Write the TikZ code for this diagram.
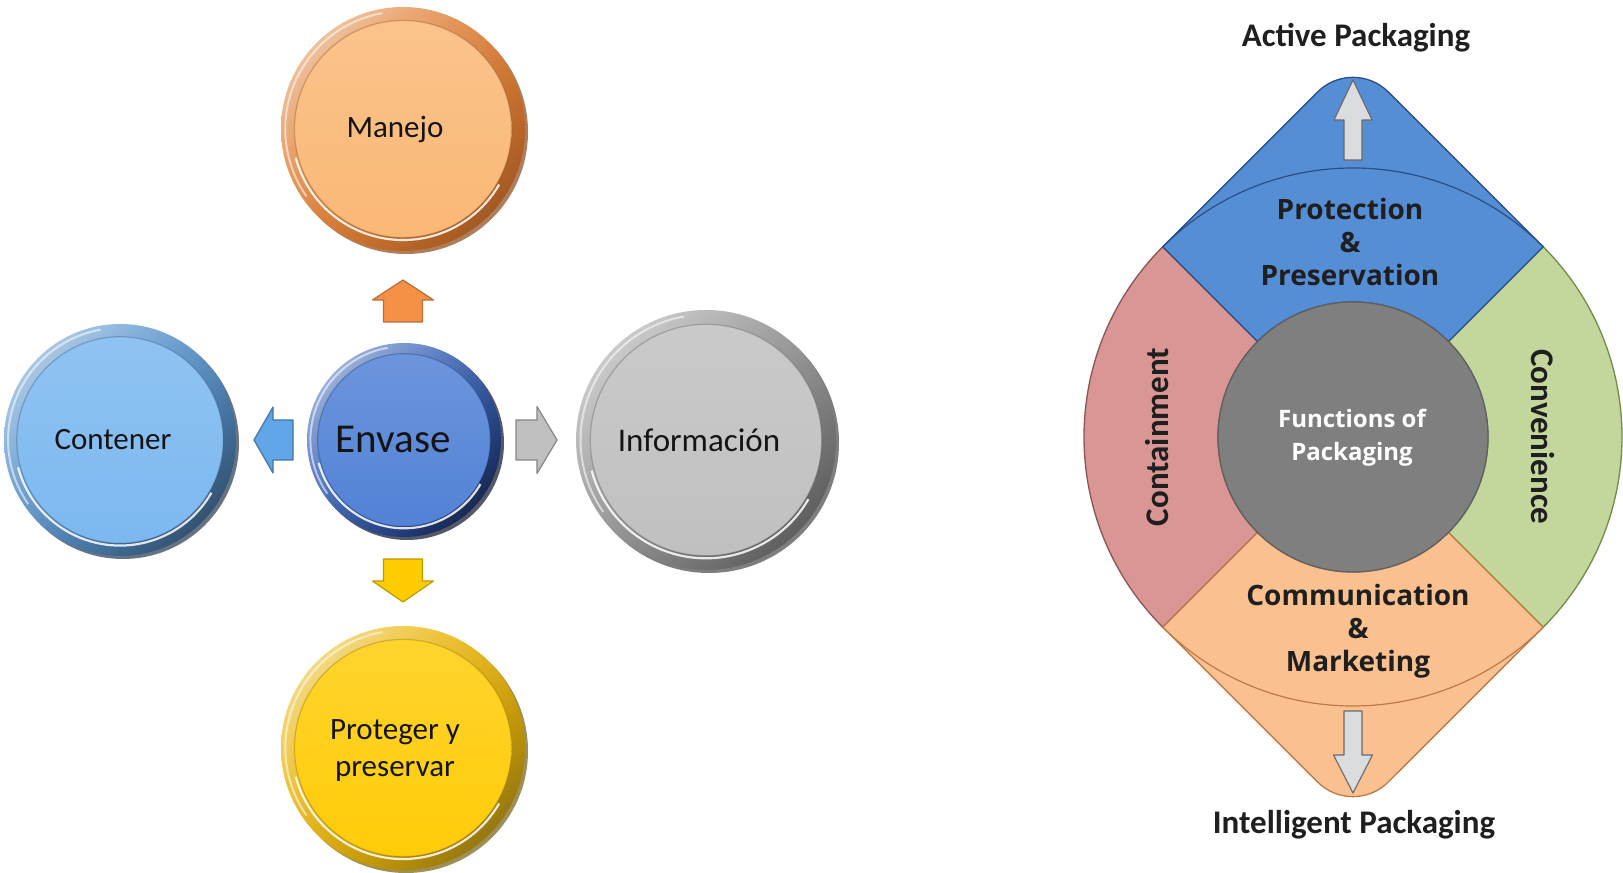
\documentclass[tikz,border=0pt]{standalone}
\usepackage{fontspec}
\setmainfont{Carlito}
\newfontfamily\labelsans{Open Sans}
\usetikzlibrary{calc,shadings}

% left: bevelled discs
\definecolor{mjFace}{RGB}{250,184,118}
\definecolor{mjRing}{RGB}{226,128,52}
\definecolor{mjDark}{RGB}{140,72,24}
\definecolor{ctFace}{RGB}{124,184,240}
\definecolor{ctRing}{RGB}{84,146,206}
\definecolor{ctDark}{RGB}{36,56,78}
\definecolor{evFace}{RGB}{82,130,214}
\definecolor{evRing}{RGB}{52,96,184}
\definecolor{evDark}{RGB}{10,18,44}
\definecolor{inFace}{RGB}{192,192,192}
\definecolor{inRing}{RGB}{150,150,150}
\definecolor{inDark}{RGB}{72,72,72}
\definecolor{ppFace}{RGB}{255,204,8}
\definecolor{ppRing}{RGB}{236,180,0}
\definecolor{ppDark}{RGB}{118,96,16}
\definecolor{arOrange}{RGB}{245,145,70}
\definecolor{arBlue}{RGB}{96,166,232}
\definecolor{arGray}{RGB}{192,192,192}
\definecolor{arYellow}{RGB}{255,204,0}
% right: functions wheel
\definecolor{secBlue}{RGB}{85,142,213}
\definecolor{secBlueD}{RGB}{42,78,135}
\definecolor{secPink}{RGB}{217,150,148}
\definecolor{secPinkD}{RGB}{140,84,82}
\definecolor{secGreen}{RGB}{195,214,155}
\definecolor{secGreenD}{RGB}{112,140,70}
\definecolor{secOrange}{RGB}{250,192,144}
\definecolor{secOrangeD}{RGB}{190,122,70}
\definecolor{hubGray}{RGB}{127,127,127}
\definecolor{hubGrayD}{RGB}{96,96,96}
\definecolor{pointer}{RGB}{218,220,222}
\definecolor{pointerD}{RGB}{105,105,105}

\tikzset{
  pics/blockarrow/.style n args={4}{code={%
    \path[pic actions] (-#1,-#3) -- (-#2,-#3) -- (-#2,-#4) -- (0,0)
      -- (-#2,#4) -- (-#2,#3) -- (-#1,#3) -- cycle;}},
  disclabel/.style={font=\fontsize{31}{37}\selectfont, text=black!92, align=center, inner sep=0pt},
  headline/.style={font=\fontsize{33}{38}\selectfont\bfseries, text=black!88, inner sep=0pt},
  sectorlabel/.style={font=\labelsans\bfseries\fontsize{28}{33}\selectfont, text=black!88, align=center, inner sep=0pt},
  sidelabel/.style={font=\fontsize{33}{38}\selectfont\bfseries, text=black!88, inner sep=0pt},
  leftarrow/.style={line width=1.2pt, line join=round},
  pointerarrow/.style={fill=pointer, draw=pointerD, line width=1.1pt, line join=round},
}

% bevelled disc: centre, radius, face, ring, dark edge
\newcommand\beveldisc[5]{%
  \begin{scope}[shift={#1}]
    \fill[#5, opacity=.7] (3,-3) circle[radius=#2];
    \shade[upper left=#4!30!white, upper right=#4, lower left=#4, lower right=#5]
      (0,0) circle[radius=#2];
    \shade[top color=#3!85!white, bottom color=#3] (0,0) circle[radius={0.89*#2}];
    \draw[#4!60!black, opacity=.35, line width=1.2pt] (0,0) circle[radius={0.89*#2}];
    \draw[white, opacity=.85, line width=2.2pt]
      ({195}:{0.91*#2}) arc[start angle=195, end angle=330, radius={0.91*#2}];
    \draw[white, opacity=.55, line width=2pt]
      ({100}:{0.965*#2}) arc[start angle=100, end angle=215, radius={0.965*#2}];
  \end{scope}}

\begin{document}
\begin{tikzpicture}[x=1pt, y=1pt]
\useasboundingbox (0,0) rectangle (1623,873);
\fill[white] (0,0) rectangle (1623,873);

% ---------------- Envase and its four functions ----------------
\beveldisc{(403,744)}{122}{mjFace}{mjRing}{mjDark}
\beveldisc{(120,433)}{116}{ctFace}{ctRing}{ctDark}
\beveldisc{(404,433)}{97}{evFace}{evRing}{evDark}
\beveldisc{(706,433)}{130}{inFace}{inRing}{inDark}
\beveldisc{(403,125)}{122}{ppFace}{ppRing}{ppDark}

\node[disclabel] (manejo) at (395,743) {Manejo};
\node[disclabel] (contener) at (113,433) {Contener};
\node[disclabel, font=\fontsize{41}{48}\selectfont] (envase) at (393,433) {Envase};
\node[disclabel, font=\fontsize{33}{39}\selectfont] (informacion) at (699,433) {Información};
\node[disclabel] (proteger) at (395,122) {Proteger y\\preservar};

\pic[leftarrow, rotate=90, fill=arOrange, draw=arOrange!75!black] at (403,593) {blockarrow={42}{20}{19.5}{30.5}};
\pic[leftarrow, rotate=-90, fill=arYellow, draw=arYellow!75!black] at (403,271) {blockarrow={43}{21}{19.5}{30.5}};
\pic[leftarrow, rotate=180, fill=arBlue, draw=arBlue!70!black] at (254,433) {blockarrow={39}{19}{20}{33}};
\pic[leftarrow, fill=arGray, draw=arGray!70!black] at (557,433) {blockarrow={41}{20}{20}{33.5}};

% ---------------- Functions of packaging wheel ----------------
\coordinate (hub) at (1353,436);
% rounded points: tangent points and arc radius 50
\coordinate (topL) at (1317.6,781.0);
\coordinate (botL) at (1317.6,91.0);

% containment (left quarter)
\filldraw[fill=secPink, draw=secPinkD, line width=1.3pt]
  ($(hub)+(135:269)$) arc[start angle=135, end angle=225, radius=269]
  -- ($(hub)+(225:135)$) arc[start angle=225, end angle=135, radius=135] -- cycle;
% convenience (right quarter)
\filldraw[fill=secGreen, draw=secGreenD, line width=1.3pt]
  ($(hub)+(-45:269)$) arc[start angle=-45, end angle=45, radius=269]
  -- ($(hub)+(45:135)$) arc[start angle=45, end angle=-45, radius=135] -- cycle;
% protection (top quarter with point)
\filldraw[fill=secBlue, draw=secBlueD, line width=1.3pt]
  ($(hub)+(135:269)$) -- (topL) arc[start angle=135, end angle=45, radius=50]
  -- ($(hub)+(45:269)$) -- ($(hub)+(45:135)$)
  arc[start angle=45, end angle=135, radius=135] -- cycle;
% communication (bottom quarter with point)
\filldraw[fill=secOrange, draw=secOrangeD, line width=1.3pt]
  ($(hub)+(225:269)$) -- (botL) arc[start angle=225, end angle=315, radius=50]
  -- ($(hub)+(-45:269)$) -- ($(hub)+(-45:135)$)
  arc[start angle=-45, end angle=-135, radius=135] -- cycle;
% rim of the ring inside the two points
\draw[secBlueD, line width=1.2pt]
  ($(hub)+(135:269)$) arc[start angle=135, end angle=45, radius=269];
\draw[secOrangeD, line width=1.2pt]
  ($(hub)+(225:269)$) arc[start angle=225, end angle=315, radius=269];
% hub
\filldraw[fill=hubGray, draw=hubGrayD, line width=1.3pt] (hub) circle[radius=135];

\pic[pointerarrow, rotate=90] at (1353,793) {blockarrow={80}{40}{9}{19}};
\pic[pointerarrow, rotate=-90] at (1353,80) {blockarrow={82}{38}{9}{19.5}};

\node[headline, anchor=base] (active) at (1356,826) {Active Packaging};
\node[headline, anchor=base] (intelligent) at (1354,39) {Intelligent Packaging};
\node[sectorlabel] (protection) at (1350,631) {Protection\\\&\\Preservation};
\node[sectorlabel] (communication) at (1358,242) {Communication\\\&\\Marketing};
\node[sectorlabel, text=white, font=\labelsans\bfseries\fontsize{24}{33}\selectfont] (functions) at (1352,435) {Functions of\\Packaging};
\node[sidelabel, rotate=90] (containment) at (1157,436) {Containment};
\node[sidelabel, rotate=-90] (convenience) at (1543,436) {Convenience};
\end{tikzpicture}
\end{document}
